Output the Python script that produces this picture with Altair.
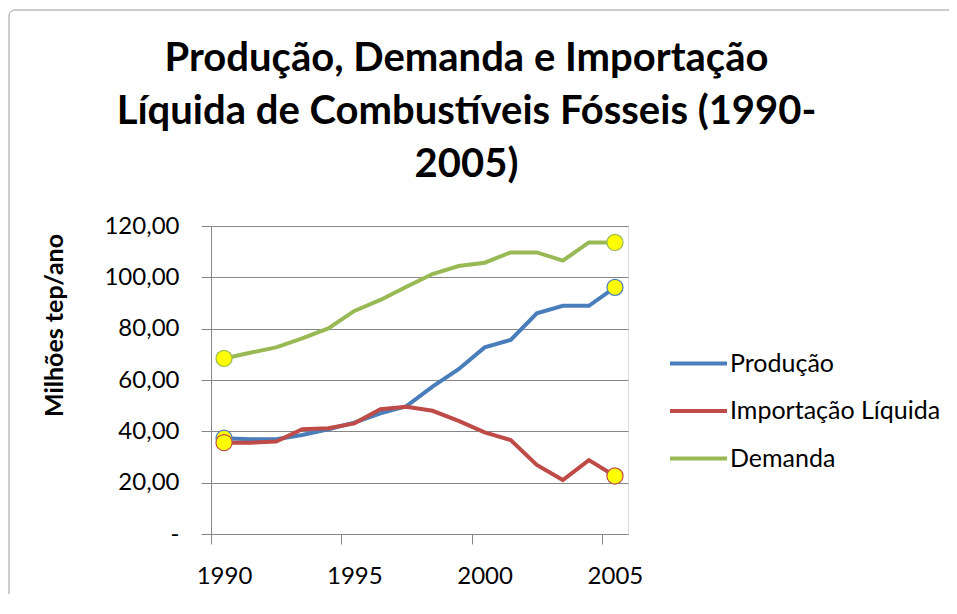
import altair as alt
import pandas as pd

anos = list(range(1990, 2006))
series = ["Produção", "Importação Líquida", "Demanda"]
producao = [37.3, 36.9, 36.9, 38.6, 40.8, 43.4, 47.0, 49.8, 57.4, 64.2, 72.7, 75.6, 86.0, 88.9, 88.9, 96.1]
importacao = [35.6, 35.6, 36.0, 40.8, 41.2, 43.1, 48.6, 49.6, 48.0, 44.1, 39.6, 36.6, 26.9, 21.0, 28.8, 22.6]
demanda = [68.4, 70.6, 72.7, 76.2, 80.1, 86.9, 91.2, 96.3, 101.3, 104.4, 105.7, 109.7, 109.7, 106.5, 113.6, 113.6]
cores = ["#4A7EBB", "#BE4B48", "#98B954"]
y_ticks = [0, 20, 40, 60, 80, 100, 120]
x_ticks = [1989.5, 1994.5, 1999.5, 2004.5]

rows = []
for nome, vals in zip(series, [producao, importacao, demanda]):
    for a, v in zip(anos, vals):
        rows.append({"ano": a, "valor": v, "serie": nome})
df = pd.DataFrame(rows)

color_scale = alt.Scale(domain=series, range=cores)
GRAY = "#868686"

x_enc = alt.X(
    "ano:Q",
    scale=alt.Scale(domain=[1989.5, 2005.5], nice=False, zero=False),
    axis=alt.Axis(
        values=x_ticks,
        labelExpr="format(datum.value + 0.5, 'd')",
        labelOffset=13,
        labelFlush=False,
        labelOverlap=False,
        tickSize=10,
        grid=False,
        title=None,
        labelFont="Lato",
        labelFontSize=24,
        labelPadding=20,
        labelColor="black",
        domainColor=GRAY,
        tickColor=GRAY,
    ),
)
y_enc = alt.Y(
    "valor:Q",
    scale=alt.Scale(domain=[0, 120], nice=False),
    axis=alt.Axis(
        values=y_ticks,
        labelExpr="datum.value == 0 ? '-\u00a0\u00a0\u00a0' : replace(format(datum.value, '.2f'), '.', ',')",
        tickSize=10,
        labelPadding=22,
        labelFont="Lato",
        labelFontSize=24,
        labelColor="black",
        grid=True,
        gridColor=GRAY,
        domainColor=GRAY,
        tickColor=GRAY,
        title="Milhões tep/ano",
        titleFont="Lato",
        titleFontSize=25,
        titleFontWeight="bold",
        titleColor="black",
        titleAngle=270,
        titleX=-157,
        titleY=99,
        titleAlign="center",
        titleBaseline="middle",
    ),
)

frame = alt.Chart(pd.DataFrame({"k": [0]})).mark_rect(
    fillOpacity=0, stroke="#9a9a9a", strokeWidth=1, cornerRadius=6
).encode(
    x=alt.value(-202), x2=alt.value(800), y=alt.value(-216), y2=alt.value(500)
)

lines = alt.Chart(df).mark_line(strokeWidth=4).encode(
    x=x_enc,
    y=y_enc,
    color=alt.Color(
        "serie:N",
        scale=color_scale,
        legend=alt.Legend(
            title=None,
            orient="none",
            legendX=457,
            legendY=107,
            symbolType="stroke",
            symbolSize=3249,
            symbolStrokeWidth=4,
            labelFont="Lato",
            labelFontSize=25,
            labelColor="black",
            labelOffset=1,
            labelLimit=400,
            rowPadding=3.5,
            padding=0,
        ),
    ),
)

points = alt.Chart(df).transform_filter(
    "datum.ano == 1990 || datum.ano == 2005"
).mark_point(filled=True, fill="#FFFF00", size=260, strokeWidth=1.2, opacity=1, shape="circle").encode(
    x="ano:Q",
    y="valor:Q",
    stroke=alt.Color("serie:N", scale=color_scale, legend=None),
)

chart = alt.layer(frame, lines, points).properties(
    width=417,
    height=308,
    autosize=alt.AutoSizeParams(type="none"),
    padding={"left": 203, "top": 218, "right": 321, "bottom": 60},
    title=alt.TitleParams(
        text=["Produção, Demanda e Importação", "Líquida de Combustíveis Fósseis (1990-", "2005)"],
        font="Lato",
        fontSize=40,
        fontWeight="bold",
        lineHeight=53,
        anchor="middle",
        frame="group",
        dx=47,
        offset=-175,
        color="black",
    ),
).configure_view(strokeWidth=0).configure(background="white")

chart.save("out.html", embed_options={"renderer": "svg", "actions": False})
